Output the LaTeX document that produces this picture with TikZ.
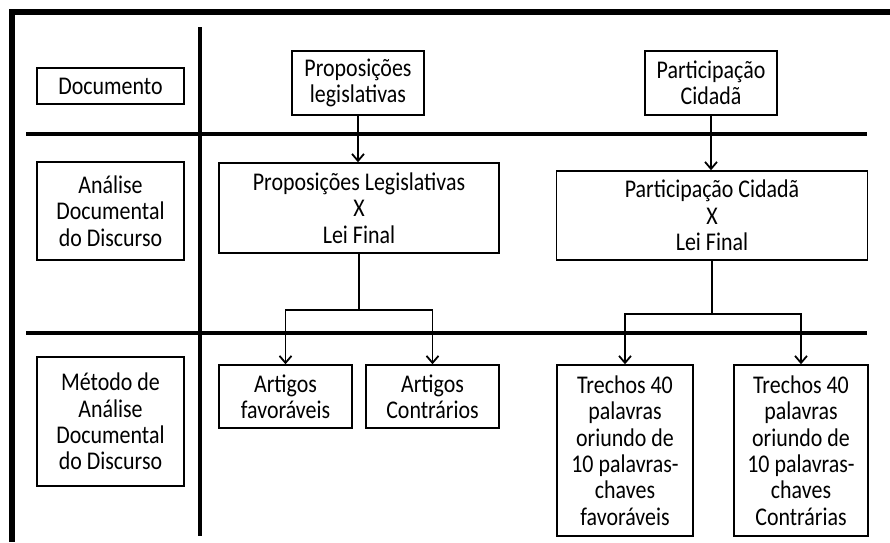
\documentclass[tikz,border=0pt]{standalone}
\usepackage{fontspec}
\setmainfont{Carlito}
\newfontfamily\boxfont[FakeStretch=0.86]{Carlito}
\usetikzlibrary{arrows.meta}
\begin{document}
\begin{tikzpicture}[x=1pt,y=-1pt,
  box/.style={draw, line width=1.5pt, align=center, inner sep=0pt,
    font=\boxfont\fontsize{25.5}{26.3}\selectfont},
  divider/.style={line width=3.4pt},
  arr/.style={line width=1.8pt, -{Straight Barb[length=7pt,width=12pt,line width=1.8pt]}}]
\useasboundingbox (0,0) rectangle (890,542);
% frame bars along top and left edges
\fill (9,9) rectangle (890,15);
\fill (9,9) rectangle (15,542);
% grid of dividing lines
\coordinate (vtop) at (200,27);
\coordinate (vbot) at (200,536);
\coordinate (h1l) at (26,134);
\coordinate (h1r) at (867,134);
\coordinate (h2l) at (26,333);
\coordinate (h2r) at (867,333);
\draw[divider] (vtop) -- (vbot);
\draw[divider] (h1l) -- (h1r);
\draw[divider] (h2l) -- (h2r);
% row labels
\node[box, minimum width=147pt, minimum height=36pt] (doc) at (110.5,86) {Documento};
\node[box, minimum width=147pt, minimum height=98pt] (adq) at (110.5,211) {Análise\\Documental\\do Discurso};
\node[box, minimum width=147pt, minimum height=129pt] (met) at (110.5,421.5) {Método de\\Análise\\Documental\\do Discurso};
% documents
\node[box, minimum width=132pt, minimum height=64pt] (prop) at (358,83) {Proposições\\legislativas};
\node[box, minimum width=132pt, minimum height=64pt] (part) at (711,83) {Participação\\Cidadã};
% analyses
\node[box, minimum width=280pt, minimum height=90pt] (propx) at (359,208) {Proposições Legislativas\\X\\Lei Final};
\node[box, minimum width=311pt, minimum height=89pt] (partx) at (712,215.5) {Participação Cidadã\\X\\Lei Final};
% results
\node[box, minimum width=133pt, minimum height=63pt] (afav) at (285.5,396.5) {Artigos\\favoráveis};
\node[box, minimum width=133pt, minimum height=63pt] (acon) at (432.5,396.5) {Artigos\\Contrários};
\node[box, minimum width=136pt, minimum height=171pt] (tfav) at (625,450.5) {Trechos 40\\palavras\\oriundo de\\10 palavras-\\chaves\\favoráveis};
\node[box, minimum width=134pt, minimum height=171pt] (tcon) at (801,450.5) {Trechos 40\\palavras\\oriundo de\\10 palavras-\\chaves\\Contrárias};
% connectors
\draw[arr] (prop.south) -- (prop.south |- propx.north);
\draw[arr] (part.south) -- (part.south |- partx.north);
\draw[arr] (propx.south) -- ++(0,56) -| (afav.north);
\draw[arr] (propx.south) -- ++(0,56) -| (acon.north);
\draw[arr] (partx.south) -- ++(0,53) -| (tfav.north);
\draw[arr] (partx.south) -- ++(0,53) -| (tcon.north);
\end{tikzpicture}
\end{document}
